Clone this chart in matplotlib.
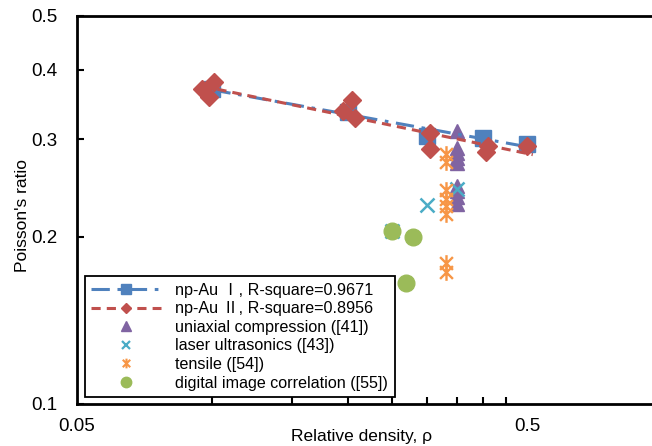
import numpy as np
import matplotlib
matplotlib.use("Agg")
import matplotlib.pyplot as plt
from matplotlib.path import Path
from matplotlib.ticker import FixedLocator, FixedFormatter, NullFormatter

plt.rcParams['font.family'] = ['Liberation Sans', 'Noto Sans CJK SC', 'DejaVu Sans']

# ---- data ----
npau1_x = [0.10, 0.20, 0.30, 0.40, 0.50]
npau1_y = [0.369, 0.336, 0.304, 0.302, 0.294]

npau2_x = [0.101, 0.095, 0.098, 0.204, 0.195, 0.207, 0.304, 0.304, 0.409, 0.406, 0.50]
npau2_y = [0.380, 0.369, 0.358, 0.353, 0.337, 0.327, 0.308, 0.288, 0.292, 0.284, 0.292]

uni_x = [0.35, 0.35, 0.35, 0.35, 0.35, 0.35, 0.35, 0.35, 0.35]
uni_y = [0.310, 0.289, 0.2835, 0.278, 0.272, 0.2475, 0.2415, 0.2356, 0.229]

laser_x = [0.25, 0.30, 0.35]
laser_y = [0.205, 0.228, 0.244]

tens_x = [0.33, 0.33, 0.33, 0.33, 0.33, 0.33, 0.33, 0.33]
tens_y = [0.282, 0.273, 0.2425, 0.2345, 0.2275, 0.2196, 0.1795, 0.173]

dic_x = [0.25, 0.279, 0.269]
dic_y = [0.205, 0.200, 0.165]

labels = ["np-Au \u2160, R-square=0.9671",
          "np-Au \u2161, R-square=0.8956",
          "uniaxial compression ([41])",
          "laser ultrasonics ([43])",
          "tensile ([54])",
          "digital image correlation ([55])"]

x_major = [0.05, 0.5]
x_major_labels = ["0.05", "0.5"]
x_minor = [0.1, 0.15, 0.2, 0.25, 0.3, 0.35, 0.4, 0.45]
y_major = [0.1, 0.2, 0.3, 0.4, 0.5]
y_major_labels = ["0.1", "0.2", "0.3", "0.4", "0.5"]

c_blue = '#4F81BD'
c_red = '#C0504D'
c_purple = '#8064A2'
c_cyan = '#4BACC6'
c_orange = '#F79646'
c_green = '#9BBB59'

star = Path([(-1, -1), (1, 1), (-1, 1), (1, -1), (0, -1.3), (0, 1.3)],
            [Path.MOVETO, Path.LINETO, Path.MOVETO, Path.LINETO, Path.MOVETO, Path.LINETO])

W, H = 652, 446
fig = plt.figure(figsize=(W / 100, H / 100), dpi=100)
left, right, top, bottom = 77, 662.5, 16, 404
ax = fig.add_axes([left / W, (H - bottom) / H, (right - left) / W, (bottom - top) / H])
ax.set_xscale('log')
ax.set_yscale('log')
ax.set_xlim(0.05, 1.0)
ax.set_ylim(0.1, 0.5)


def power_fit(x, y):
    x = np.asarray(x); y = np.asarray(y)
    b, a = np.polyfit(np.log(x), np.log(y), 1)
    xs = np.geomspace(x.min(), x.max() * 1.03, 50)
    return xs, np.exp(a) * xs ** b


# trendlines
xs1, ys1 = power_fit(npau1_x, npau1_y)
xs2, ys2 = power_fit(npau2_x, npau2_y)
ax.plot(xs1, ys1, color=c_blue, lw=2.2, dashes=(6, 2.5, 1.2, 2.5), zorder=4)
ax.plot(xs2, ys2, color=c_red, lw=2.2, dashes=(3, 2), zorder=4)

# markers
ax.plot(npau1_x, npau1_y, ls='none', marker='s', ms=12, color=c_blue, zorder=3)
ax.plot(npau2_x, npau2_y, ls='none', marker='D', ms=9, color=c_red, zorder=5)
ax.plot(uni_x, uni_y, ls='none', marker='^', ms=10.5, color=c_purple, zorder=3)
ax.plot(laser_x, laser_y, ls='none', marker='x', ms=10, mew=1.8, color=c_cyan, zorder=3)
ax.plot(tens_x, tens_y, ls='none', marker=star, ms=12, mew=1.7, color=c_orange, zorder=3)
ax.plot(dic_x, dic_y, ls='none', marker='o', ms=12, color=c_green, zorder=6)

# legend handles
h1, = ax.plot([], [], color=c_blue, lw=2.2, dashes=(6, 2.5, 1.2, 2.5), marker='s', ms=6.5)
h2, = ax.plot([], [], color=c_red, lw=2.2, dashes=(3, 2), marker='D', ms=5.5)
h3, = ax.plot([], [], ls='none', marker='^', ms=7, color=c_purple)
h4, = ax.plot([], [], ls='none', marker='x', ms=6, mew=1.6, color=c_cyan)
h5, = ax.plot([], [], ls='none', marker=star, ms=7, mew=1.5, color=c_orange)
h6, = ax.plot([], [], ls='none', marker='o', ms=7.5, color=c_green)

leg = ax.legend([h1, h2, h3, h4, h5, h6], labels, loc='lower left',
                bbox_to_anchor=((85 - left) / (right - left), (bottom - 397) / (bottom - top)),
                fontsize=11.6, handlelength=4.3, handletextpad=0.9, labelspacing=0.22,
                borderpad=0.4, fancybox=False, framealpha=1, borderaxespad=0)
leg.get_frame().set_edgecolor('black')
leg.get_frame().set_linewidth(1.3)

# axes styling
for s in ['top', 'left', 'bottom']:
    ax.spines[s].set_linewidth(2)
ax.spines['right'].set_visible(False)

ax.xaxis.set_major_locator(FixedLocator(x_major))
ax.xaxis.set_major_formatter(FixedFormatter(x_major_labels))
ax.xaxis.set_minor_locator(FixedLocator(x_minor))
ax.xaxis.set_minor_formatter(NullFormatter())
ax.yaxis.set_major_locator(FixedLocator(y_major))
ax.yaxis.set_major_formatter(FixedFormatter(y_major_labels))
ax.yaxis.set_minor_locator(FixedLocator([]))

ax.tick_params(axis='both', which='both', direction='in', labelsize=13.5, width=1.5)
ax.tick_params(axis='x', which='major', length=0, pad=10)
ax.tick_params(axis='x', which='minor', length=5)
ax.tick_params(axis='y', which='major', length=5, pad=14)

ax.set_xlabel("Relative density, \u03c1", fontsize=12.5)
ax.xaxis.set_label_coords((362 - left) / (right - left), -0.065)
ax.set_ylabel("Poisson's ratio", fontsize=12.5)
ax.yaxis.set_label_coords((30 - left) / (right - left), (bottom - 215) / (bottom - top))

fig.savefig("out.png", dpi=100)
